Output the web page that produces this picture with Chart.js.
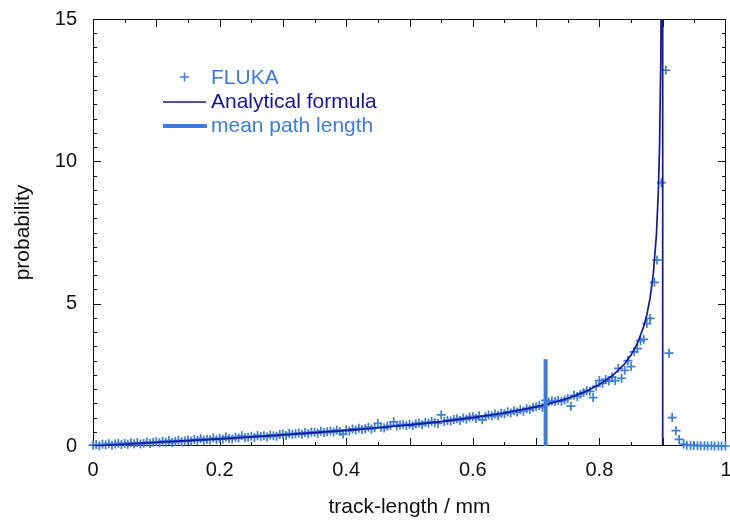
<!DOCTYPE html>
<html>
<head>
<meta charset="utf-8">
<script src="https://cdn.jsdelivr.net/npm/chart.js@4"></script>
<style>
  html, body { margin: 0; padding: 0; background: #fff; }
  canvas { display: block; }
</style>
</head>
<body>
<canvas id="chart" width="730" height="520"></canvas>
<script>
// FLUKA histogram (bin positions and heights)
const flukaX = [
  0, 0.005, 0.01, 0.015, 0.02, 0.025, 0.03, 0.035, 0.04, 0.045,
  0.05, 0.055, 0.06, 0.065, 0.07, 0.075, 0.08, 0.085, 0.09, 0.095,
  0.1, 0.105, 0.11, 0.115, 0.12, 0.125, 0.13, 0.135, 0.14, 0.145,
  0.15, 0.155, 0.16, 0.165, 0.17, 0.175, 0.18, 0.185, 0.19, 0.195,
  0.2, 0.205, 0.21, 0.215, 0.22, 0.225, 0.23, 0.235, 0.24, 0.245,
  0.25, 0.255, 0.26, 0.265, 0.27, 0.275, 0.28, 0.285, 0.29, 0.295,
  0.3, 0.305, 0.31, 0.315, 0.32, 0.325, 0.33, 0.335, 0.34, 0.345,
  0.35, 0.355, 0.36, 0.365, 0.37, 0.375, 0.38, 0.385, 0.39, 0.395,
  0.4, 0.405, 0.41, 0.415, 0.42, 0.425, 0.43, 0.435, 0.44, 0.445,
  0.45, 0.455, 0.46, 0.465, 0.47, 0.475, 0.48, 0.485, 0.49, 0.495,
  0.5, 0.505, 0.51, 0.515, 0.52, 0.525, 0.53, 0.535, 0.54, 0.545,
  0.55, 0.555, 0.56, 0.565, 0.57, 0.575, 0.58, 0.585, 0.59, 0.595,
  0.6, 0.605, 0.61, 0.615, 0.62, 0.625, 0.63, 0.635, 0.64, 0.645,
  0.65, 0.655, 0.66, 0.665, 0.67, 0.675, 0.68, 0.685, 0.69, 0.695,
  0.7, 0.705, 0.71, 0.715, 0.72, 0.725, 0.73, 0.735, 0.74, 0.745,
  0.75, 0.755, 0.76, 0.765, 0.77, 0.775, 0.78, 0.785, 0.79, 0.795,
  0.8, 0.805, 0.81, 0.815, 0.82, 0.825, 0.83, 0.835, 0.84, 0.845,
  0.85, 0.855, 0.86, 0.865, 0.87, 0.875, 0.88,
  0.887, 0.891, 0.898, 0.905, 0.91, 0.915, 0.921, 0.926, 0.933,
  0.938, 0.944, 0.949, 0.955, 0.96, 0.966, 0.971, 0.977, 0.982, 0.988, 0.993, 0.999
];
const flukaY = [
  0.03, 0.05, 0.01, 0.06, 0.04, 0.08, 0.03, 0.07, 0.10, 0.05,
  0.09, 0.06, 0.11, 0.08, 0.12, 0.07, 0.10, 0.14, 0.09, 0.13,
  0.15, 0.11, 0.17, 0.13, 0.19, 0.12, 0.16, 0.20, 0.15, 0.18,
  0.21, 0.17, 0.23, 0.19, 0.26, 0.20, 0.24, 0.22, 0.28, 0.22,
  0.27, 0.24, 0.32, 0.26, 0.25, 0.31, 0.28, 0.36, 0.29, 0.31,
  0.34, 0.30, 0.37, 0.33, 0.36, 0.32, 0.39, 0.36, 0.34, 0.40,
  0.41, 0.37, 0.44, 0.40, 0.43, 0.46, 0.41, 0.47, 0.43, 0.49,
  0.48, 0.45, 0.52, 0.47, 0.50, 0.53, 0.49, 0.56, 0.51, 0.42,
  0.57, 0.53, 0.60, 0.56, 0.62, 0.58, 0.61, 0.66, 0.60, 0.64,
  0.80, 0.66, 0.63, 0.69, 0.72, 0.85, 0.70, 0.74, 0.76, 0.72,
  0.76, 0.71, 0.78, 0.81, 0.75, 0.83, 0.80, 0.86, 0.82, 0.79,
  1.09, 0.86, 0.90, 0.88, 0.93, 0.96, 0.90, 0.98, 0.94, 1.02,
  1.04, 0.97, 1.06, 0.92, 1.03, 1.09, 1.05, 1.12, 1.07, 1.15,
  1.13, 1.20, 1.16, 1.24, 1.19, 1.27, 1.22, 1.31, 1.28, 1.35,
  1.38, 1.42, 1.36, 1.60, 1.55, 1.58, 1.56, 1.60, 1.57, 1.62,
  1.66, 1.40, 1.78, 1.74, 1.82, 1.88, 1.95, 1.92, 1.70, 2.10,
  2.30, 2.20, 2.34, 2.28, 2.42, 2.30, 2.73, 2.38, 2.66, 3.00,
  2.79, 3.31, 3.42, 3.70, 3.75, 4.30, 4.48,
  5.75, 6.53, 9.25, 13.2, 3.26, 1.00, 0.54, 0.23, 0.07,
  0.03, 0.02, 0.02, 0.01, 0.01, 0.01, 0.00, 0.01, 0.00, 0.00, 0.00, 0.00
];

// analytical formula curve, diverging at 0.9 mm then dropping to zero
const anaX = [0, 0.05, 0.1, 0.15, 0.2, 0.25, 0.3, 0.35, 0.4, 0.45, 0.5, 0.55, 0.6, 0.65, 0.7,
  0.72, 0.74, 0.76, 0.78, 0.8, 0.82, 0.84, 0.85, 0.86, 0.87, 0.875, 0.88, 0.885, 0.89,
  0.893, 0.895, 0.897, 0.898, 0.9, 0.9];
const anaY = [0, 0.062, 0.124, 0.188, 0.253, 0.321, 0.393, 0.469, 0.551, 0.642, 0.742, 0.858, 0.994, 1.16, 1.375,
  1.482, 1.605, 1.752, 1.93, 2.156, 2.457, 2.889, 3.193, 3.601, 4.195, 4.615, 5.182, 6.009, 7.39,
  8.86, 10.49, 13.57, 16.6, 30, 0];

// mean path length marker
const meanX = [0.715, 0.715];
const meanY = [0, 3.05];

const legendItems = ['FLUKA', 'Analytical formula', 'mean path length'];

const LIGHT = '#3a7ce0';
const DARK = '#15159e';
const FONT = "'Liberation Sans', Arial, sans-serif";

const toPoints = (xs, ys) => xs.map((x, i) => ({ x, y: ys[i] }));
const fmt = (v) => String(Math.round(v * 10) / 10);

// box frame with inward ticks on all four sides, plus the legend
const framePlugin = {
  id: 'frame',
  beforeDatasetsDraw(chart) {
    const { ctx, chartArea: a, scales: { x, y } } = chart;
    ctx.save();
    ctx.strokeStyle = '#111';
    ctx.lineWidth = 1;
    ctx.strokeRect(a.left + 0.5, a.top + 0.5, a.right - a.left - 1, a.bottom - a.top - 1);
    ctx.beginPath();
    for (let i = 1; i < 20; i++) {
      const px = Math.round(x.getPixelForValue(i * 0.05)) + 0.5;
      const len = i % 2 === 0 ? 8 : 4;
      ctx.moveTo(px, a.bottom); ctx.lineTo(px, a.bottom - len);
      ctx.moveTo(px, a.top); ctx.lineTo(px, a.top + len);
    }
    for (let i = 1; i < 30; i++) {
      const py = Math.round(y.getPixelForValue(i * 0.5)) + 0.5;
      const len = i % 10 === 0 ? 8 : 4;
      ctx.moveTo(a.left, py); ctx.lineTo(a.left + len, py);
      ctx.moveTo(a.right, py); ctx.lineTo(a.right - len, py);
    }
    ctx.stroke();
    ctx.restore();
  },
  afterDraw(chart) {
    const { ctx } = chart;
    ctx.save();
    ctx.font = `21px ${FONT}`;
    ctx.textBaseline = 'middle';
    // FLUKA cross
    ctx.strokeStyle = LIGHT;
    ctx.lineWidth = 1.5;
    ctx.beginPath();
    ctx.moveTo(180, 77); ctx.lineTo(189, 77);
    ctx.moveTo(184.5, 72.5); ctx.lineTo(184.5, 81.5);
    ctx.stroke();
    ctx.fillStyle = LIGHT;
    ctx.fillText(legendItems[0], 211, 78);
    // analytical line
    ctx.strokeStyle = DARK;
    ctx.lineWidth = 1.5;
    ctx.beginPath();
    ctx.moveTo(163, 102); ctx.lineTo(206, 102);
    ctx.stroke();
    ctx.fillStyle = DARK;
    ctx.fillText(legendItems[1], 211, 102);
    // mean line
    ctx.strokeStyle = LIGHT;
    ctx.lineWidth = 4;
    ctx.beginPath();
    ctx.moveTo(163, 126); ctx.lineTo(207, 126);
    ctx.stroke();
    ctx.fillStyle = LIGHT;
    ctx.fillText(legendItems[2], 211, 126);
    ctx.restore();
  }
};

new Chart(document.getElementById('chart'), {
  type: 'scatter',
  data: {
    datasets: [
      {
        label: 'mean path length',
        data: toPoints(meanX, meanY),
        showLine: true,
        borderColor: LIGHT,
        borderWidth: 4,
        pointRadius: 0,
        order: 0
      },
      {
        label: 'Analytical formula',
        data: toPoints(anaX, anaY),
        showLine: true,
        borderColor: DARK,
        borderWidth: 1.7,
        pointRadius: 0,
        tension: 0,
        order: 1
      },
      {
        label: 'FLUKA',
        data: toPoints(flukaX, flukaY),
        pointStyle: 'cross',
        pointRadius: 4.5,
        borderColor: LIGHT,
        borderWidth: 1.7,
        backgroundColor: LIGHT,
        clip: false,
        order: 2
      }
    ]
  },
  options: {
    responsive: false,
    animation: false,
    layout: { autoPadding: false, padding: { top: 19, right: 4, left: 0, bottom: 0 } },
    plugins: { legend: { display: false }, tooltip: { enabled: false } },
    scales: {
      x: {
        type: 'linear', min: 0, max: 1,
        grid: { display: false, drawTicks: false },
        border: { display: false },
        ticks: { stepSize: 0.2, padding: 12, maxRotation: 0, color: '#111', font: { family: FONT, size: 20 }, callback: fmt },
        title: { display: true, text: 'track-length / mm', color: '#111', font: { family: FONT, size: 21 }, padding: { top: 0, bottom: 0 } },
        afterFit(s) { s.height = 74; s.paddingLeft = 0; s.paddingRight = 0; }
      },
      y: {
        type: 'linear', min: 0, max: 15,
        grid: { display: false, drawTicks: false },
        border: { display: false },
        ticks: { stepSize: 5, padding: 16, color: '#111', font: { family: FONT, size: 20 } },
        title: { display: true, text: 'probability', color: '#111', font: { family: FONT, size: 21 }, padding: { top: 11, bottom: 0 } },
        afterFit(s) { s.width = 93; s.paddingTop = 0; s.paddingBottom = 0; }
      }
    }
  },
  plugins: [framePlugin]
});
</script>
</body>
</html>
